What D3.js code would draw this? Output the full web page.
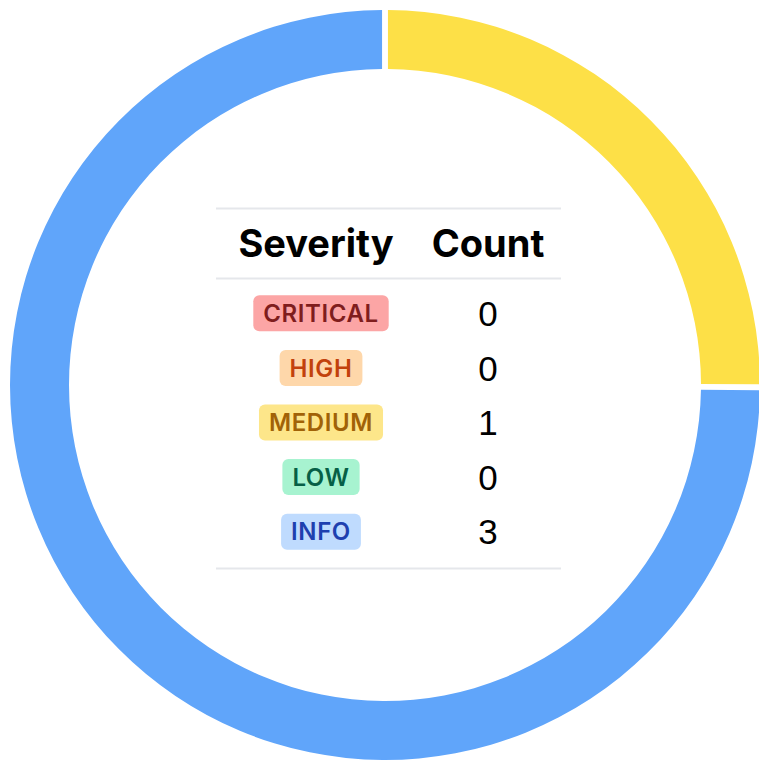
<!DOCTYPE html>
<html>
<head>
<meta charset="utf-8">
<script src="https://cdn.jsdelivr.net/npm/d3@7"></script>
<style>
  html, body { margin: 0; padding: 0; background: #fff; overflow: hidden; }
  svg { display: block; }
</style>
</head>
<body>
<div id="chart"></div>
<script>
const severities = ["CRITICAL", "HIGH", "MEDIUM", "LOW", "INFO"];
const counts = [0, 0, 1, 0, 3];
const sliceColors = ["#f87171", "#fb923c", "#fde047", "#34d399", "#60a5fa"];
const badgeFill = ["#fca5a5", "#fed7aa", "#fde68a", "#a7f3d0", "#bfdbfe"];
const badgeText = ["#7f1d1d", "#c2410c", "#a16207", "#065f46", "#1e40af"];
const headers = ["Severity", "Count"];

const width = 759, height = 763;
const cx = 385, cy = 385;
const outer = 375, inner = 316;

const svg = d3.select("#chart").append("svg")
    .attr("width", width)
    .attr("height", height);

const rows = severities.map((s, i) => ({ name: s, value: counts[i], i: i }));

// donut (empty slices are left out so they take no padding)
const pie = d3.pie().value(d => d.value).sort(null).padAngle(0.012);
const arc = d3.arc().innerRadius(inner).outerRadius(outer);

svg.append("g")
    .attr("transform", `translate(${cx},${cy})`)
    .selectAll("path")
    .data(pie(rows.filter(d => d.value > 0)))
    .enter().append("path")
    .attr("d", arc)
    .attr("fill", d => sliceColors[d.data.i]);

// table in the middle
const tableLeft = 216, tableRight = 561;
const col1 = 316, col2 = 488;
const topLine = 208.5, headLine = 278.5, bottomLine = 568.5;

const y = d3.scaleBand()
    .domain(severities)
    .range([286, 559]);

const table = svg.append("g");

[topLine, headLine, bottomLine].forEach(ly => {
    table.append("line")
        .attr("x1", tableLeft).attr("x2", tableRight)
        .attr("y1", ly).attr("y2", ly)
        .attr("stroke", "#e5e7eb")
        .attr("stroke-width", 2);
});

table.selectAll(".head")
    .data(headers)
    .enter().append("text")
    .attr("class", "head")
    .attr("x", (d, i) => i === 0 ? col1 : col2)
    .attr("y", 257)
    .attr("text-anchor", "middle")
    .style("font-family", "Inter, 'Liberation Sans', sans-serif")
    .style("font-weight", 700)
    .style("font-size", "38px")
    .attr("fill", "#000")
    .text(d => d);

const row = table.selectAll(".row")
    .data(rows)
    .enter().append("g")
    .attr("class", "row")
    .attr("transform", d => `translate(0,${y(d.name) + y.bandwidth() / 2})`);

const label = row.append("text")
    .attr("x", col1 + 5)
    .attr("y", 0)
    .attr("dy", "0.36em")
    .attr("text-anchor", "middle")
    .style("font-family", "Inter, 'Liberation Sans', sans-serif")
    .style("font-weight", 600)
    .style("font-size", "24px")
    .style("letter-spacing", "0.6px")
    .attr("fill", d => badgeText[d.i])
    .text(d => d.name);

label.each(function(d) {
    const bb = this.getBBox();
    d3.select(this.parentNode).insert("rect", "text")
        .attr("x", bb.x - 10)
        .attr("y", -18)
        .attr("width", bb.width + 20)
        .attr("height", 36)
        .attr("rx", 6)
        .attr("fill", badgeFill[d.i]);
});

row.append("text")
    .attr("x", col2)
    .attr("y", 0)
    .attr("dy", "0.36em")
    .attr("text-anchor", "middle")
    .style("font-family", "'Liberation Sans', Arial, sans-serif")
    .style("font-size", "35px")
    .attr("fill", "#000")
    .text(d => d.value);
</script>
</body>
</html>
